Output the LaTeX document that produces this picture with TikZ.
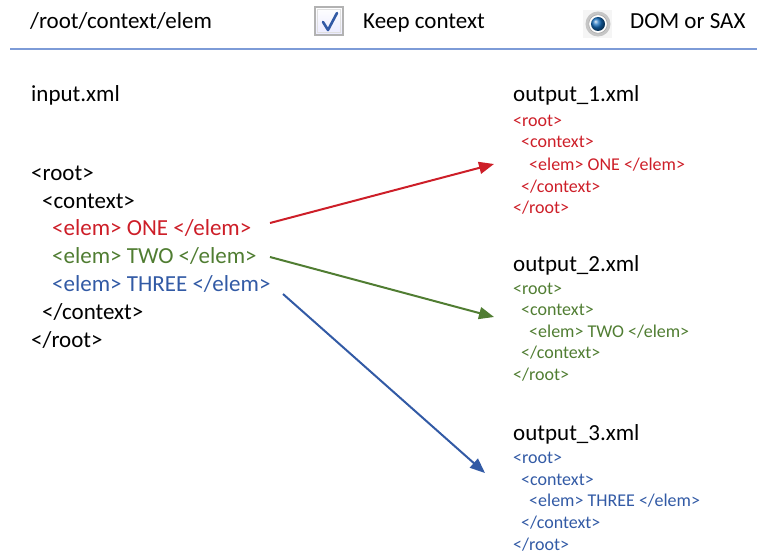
\documentclass[tikz,border=0pt]{standalone}
\usepackage{fontspec}
\setmainfont{Carlito}
\usetikzlibrary{arrows.meta}
\definecolor{cred}{RGB}{205,30,40}
\definecolor{cgreen}{RGB}{80,125,50}
\definecolor{cblue}{RGB}{50,90,165}
\definecolor{cline}{RGB}{125,155,215}
\begin{document}
\begin{tikzpicture}[x=1pt,y=-1pt,
 txt/.style={anchor=base west, inner sep=0pt, font=\fontsize{23}{28}\selectfont},
 small/.style={anchor=base west, inner sep=0pt, font=\fontsize{18}{22}\selectfont},
 arr/.style={line width=2pt, -{Triangle[length=15pt,width=12pt]}}]
\useasboundingbox (0,0) rectangle (767,556);
% header
\node[txt] (path) at (30,29) {/root/context/elem};
\node[txt] (keep) at (363,29) {Keep context};
\node[txt] (dom) at (630,29) {DOM or SAX};
\draw[gray!60, line width=1.2pt, top color=white, bottom color=blue!8] (315,7) rectangle (343,35);
\draw[gray!25, line width=1pt] (317.5,9.5) rectangle (340.5,32.5);
\draw[cblue, line width=2.6pt, line cap=round, line join=round] (323,22) -- (328,30) -- (337,13);
\fill[gray!8] (583,10) rectangle (612,38);
\fill[white] (598,24) circle (12pt);
\draw[gray!45, line width=3pt] (598,24) circle (11pt);
\draw[gray!70, line width=0.6pt] (598,24) circle (9.3pt);
\shade[ball color={rgb,255:red,20;green,110;blue,190}] (598,24) circle (7pt);
\draw[cline, line width=1.5pt] (10,49) -- (757,49);
% input
\node[txt] (in) at (31,102) {input.xml};
\node[txt] (i1) at (31,180) {<root>};
\node[txt] (i2) at (42,208) {<context>};
\node[txt, text=cred] (one) at (52,235) {<elem> ONE </elem>};
\node[txt, text=cgreen] (two) at (52,263) {<elem> TWO </elem>};
\node[txt, text=cblue] (three) at (52,291) {<elem> THREE </elem>};
\node[txt] (i6) at (42,319) {</context>};
\node[txt] (i7) at (31,347) {</root>};
% output 1
\node[txt] (o1) at (513,102) {output\_1.xml};
\begin{scope}[every node/.style={small, text=cred}]
\node (o1a) at (513,127) {<root>};
\node (o1b) at (521,148) {<context>};
\node (o1c) at (529,170) {<elem> ONE </elem>};
\node (o1d) at (521,192) {</context>};
\node (o1e) at (513,213) {</root>};
\end{scope}
% output 2
\node[txt] (o2) at (513,271) {output\_2.xml};
\begin{scope}[every node/.style={small, text=cgreen}]
\node (o2a) at (513,294) {<root>};
\node (o2b) at (521,315) {<context>};
\node (o2c) at (529,337) {<elem> TWO </elem>};
\node (o2d) at (521,358) {</context>};
\node (o2e) at (513,380) {</root>};
\end{scope}
% output 3
\node[txt] (o3) at (513,440) {output\_3.xml};
\begin{scope}[every node/.style={small, text=cblue}]
\node (o3a) at (513,463) {<root>};
\node (o3b) at (521,485) {<context>};
\node (o3c) at (529,506) {<elem> THREE </elem>};
\node (o3d) at (521,528) {</context>};
\node (o3e) at (513,550) {</root>};
\end{scope}
% arrows
\coordinate (s1) at (270,223);
\coordinate (e1) at (494,164);
\coordinate (s2) at (270,257);
\coordinate (e2) at (494,317);
\coordinate (s3) at (283,294);
\coordinate (e3) at (485,473);
\draw[arr, cred] (s1) -- (e1);
\draw[arr, cgreen] (s2) -- (e2);
\draw[arr, cblue] (s3) -- (e3);
\end{tikzpicture}
\end{document}
